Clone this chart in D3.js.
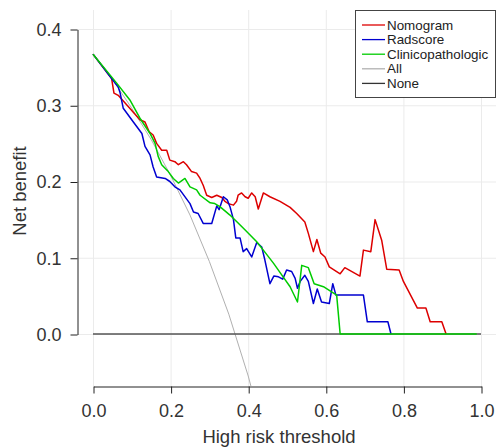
<!DOCTYPE html>
<html>
<head>
<meta charset="utf-8">
<script src="https://cdn.jsdelivr.net/npm/d3@7"></script>
<style>
  html, body { margin: 0; padding: 0; background: #fff; }
  svg { display: block; font-family: "Liberation Sans", Arial, Helvetica, sans-serif; }
</style>
</head>
<body>
<svg id="chart" width="496" height="447"></svg>
<script>
// ---- Data ----
const xTicks = [0, 0.2, 0.4, 0.6, 0.8, 1.0];
const yTicks = [0, 0.1, 0.2, 0.3, 0.4];
const seriesNames = ["Nomogram", "Radscore", "Clinicopathologic", "All", "None"];

const nomogram = [
  [0,0.367],[0.048,0.335],[0.054,0.316],[0.065,0.313],[0.121,0.281],[0.134,0.278],[0.145,0.265],
  [0.155,0.261],[0.164,0.250],[0.177,0.241],[0.190,0.241],[0.198,0.228],[0.211,0.226],[0.220,0.222],
  [0.233,0.226],[0.241,0.222],[0.254,0.213],[0.267,0.211],[0.276,0.204],[0.284,0.195],[0.293,0.182],
  [0.306,0.179],[0.319,0.182],[0.332,0.179],[0.340,0.174],[0.349,0.171],[0.362,0.169],[0.370,0.174],
  [0.374,0.182],[0.383,0.185],[0.392,0.180],[0.400,0.178],[0.409,0.185],[0.418,0.180],[0.426,0.164],
  [0.439,0.185],[0.456,0.180],[0.482,0.174],[0.508,0.166],[0.525,0.158],[0.546,0.147],[0.555,0.132],
  [0.568,0.108],[0.577,0.124],[0.587,0.106],[0.598,0.101],[0.609,0.088],[0.637,0.079],[0.649,0.087],
  [0.688,0.076],[0.697,0.110],[0.716,0.108],[0.727,0.150],[0.744,0.123],[0.757,0.085],[0.789,0.084],
  [0.800,0.069],[0.836,0.034],[0.858,0.034],[0.869,0.016],[0.899,0.016],[0.910,0.0]
];
const radscore = [
  [0,0.367],[0.048,0.335],[0.065,0.324],[0.070,0.316],[0.078,0.296],[0.104,0.278],[0.126,0.263],
  [0.134,0.246],[0.147,0.235],[0.155,0.219],[0.164,0.206],[0.186,0.204],[0.198,0.200],[0.211,0.193],
  [0.224,0.189],[0.250,0.171],[0.259,0.160],[0.271,0.158],[0.284,0.145],[0.306,0.145],[0.319,0.168],
  [0.325,0.163],[0.336,0.180],[0.346,0.176],[0.353,0.167],[0.362,0.150],[0.368,0.126],[0.379,0.126],
  [0.387,0.108],[0.396,0.112],[0.409,0.101],[0.422,0.120],[0.435,0.114],[0.443,0.097],[0.456,0.066],
  [0.466,0.076],[0.478,0.075],[0.489,0.072],[0.499,0.084],[0.512,0.082],[0.521,0.073],[0.527,0.060],
  [0.534,0.069],[0.546,0.077],[0.555,0.069],[0.568,0.040],[0.578,0.059],[0.589,0.042],[0.609,0.040],
  [0.618,0.066],[0.626,0.051],[0.697,0.051],[0.707,0.016],[0.760,0.016],[0.768,0.0]
];
const clinicopathologic = [
  [0,0.367],[0.061,0.329],[0.095,0.307],[0.121,0.283],[0.147,0.263],[0.160,0.250],[0.168,0.233],
  [0.177,0.222],[0.194,0.213],[0.207,0.204],[0.220,0.198],[0.237,0.204],[0.250,0.193],[0.267,0.189],
  [0.276,0.182],[0.302,0.172],[0.314,0.171],[0.327,0.167],[0.353,0.156],[0.387,0.139],[0.422,0.121],
  [0.439,0.110],[0.465,0.093],[0.490,0.075],[0.508,0.062],[0.527,0.042],[0.538,0.090],[0.555,0.087],
  [0.570,0.066],[0.594,0.062],[0.628,0.051],[0.637,0.0],[0.989,0.0]
];
const allCurve = [
  [0,0.367],[0.05,0.334],[0.10,0.296],[0.15,0.255],[0.20,0.208],[0.25,0.156],[0.30,0.095],
  [0.35,0.026],[0.40,-0.055],[0.45,-0.150]
];
const noneCurve = [[0,0],[1,0]];

// ---- Styles ----
const colors = { Nomogram: "#dd0000", Radscore: "#0000d0", Clinicopathologic: "#00cc00", All: "#b0b0b0", None: "#555555" };

const svg = d3.select("#chart");
const x = d3.scaleLinear().domain([0, 1]).range([93, 481]);
const y = d3.scaleLinear().domain([0, 0.4]).range([334, 29]);

const plotLeft = 77, plotRight = 496, plotTop = 10, plotBottom = 386;

// grid
const grid = svg.append("g");
grid.selectAll("line.v").data(xTicks).join("line")
  .attr("x1", d => x(d) + 0.5).attr("x2", d => x(d) + 0.5)
  .attr("y1", plotTop).attr("y2", plotBottom)
  .attr("stroke", "#ebebeb").attr("stroke-width", 1);
grid.selectAll("line.h").data(yTicks).join("line")
  .attr("x1", plotLeft).attr("x2", plotRight)
  .attr("y1", d => y(d) + 0.5).attr("y2", d => y(d) + 0.5)
  .attr("stroke", "#ebebeb").attr("stroke-width", 1);

// clip
svg.append("clipPath").attr("id", "clip").append("rect")
  .attr("x", plotLeft).attr("y", plotTop).attr("width", plotRight - plotLeft).attr("height", plotBottom - plotTop);

const line = d3.line().x(d => x(d[0])).y(d => y(d[1]));
const lines = svg.append("g").attr("clip-path", "url(#clip)");
const drawOrder = [
  ["All", allCurve, 1], ["None", noneCurve, 1.6],
  ["Nomogram", nomogram, 1.5], ["Radscore", radscore, 1.5], ["Clinicopathologic", clinicopathologic, 1.5]
];
drawOrder.forEach(([name, data, w]) => {
  lines.append("path").datum(data).attr("d", line)
    .attr("fill", "none").attr("stroke", colors[name]).attr("stroke-width", w)
    .attr("stroke-linejoin", "round");
});

// axes
const xAxis = svg.append("g").attr("transform", `translate(0.5,${plotBottom + 0.5})`)
  .call(d3.axisBottom(x).tickValues(xTicks).tickFormat(d3.format(".1f")).tickSize(7).tickSizeOuter(0).tickPadding(11));
const yAxis = svg.append("g").attr("transform", `translate(${plotLeft + 0.5},0.5)`)
  .call(d3.axisLeft(y).tickValues(yTicks).tickFormat(d3.format(".1f")).tickSize(7).tickSizeOuter(0).tickPadding(9));
[xAxis, yAxis].forEach(a => {
  a.select(".domain").attr("stroke", "#222");
  a.selectAll(".tick line").attr("stroke", "#222");
  a.selectAll(".tick text").attr("font-size", 18).attr("fill", "#333")
    .attr("font-family", "'Liberation Sans', Arial, Helvetica, sans-serif");
});

// axis titles
svg.append("text").attr("x", 279).attr("y", 443).attr("text-anchor", "middle")
  .attr("font-size", 18.5).attr("fill", "#333").text("High risk threshold");
svg.append("text").attr("transform", "translate(26,191) rotate(-90)").attr("text-anchor", "middle")
  .attr("font-size", 18.5).attr("fill", "#333").text("Net benefit");

// legend
const lg = svg.append("g");
lg.append("rect").attr("x", 355.5).attr("y", 10.5).attr("width", 140).attr("height", 87)
  .attr("fill", "#fff").attr("stroke", "#444").attr("stroke-width", 1);
seriesNames.forEach((name, i) => {
  const cy = 25 + i * 14.6;
  lg.append("line").attr("x1", 362).attr("x2", 385).attr("y1", cy).attr("y2", cy)
    .attr("stroke", name === "None" ? "#333" : colors[name]).attr("stroke-width", 1.3);
  lg.append("text").attr("x", 387).attr("y", cy + 4.6).attr("font-size", 13.4).attr("fill", "#222").text(name);
});
</script>
</body>
</html>
